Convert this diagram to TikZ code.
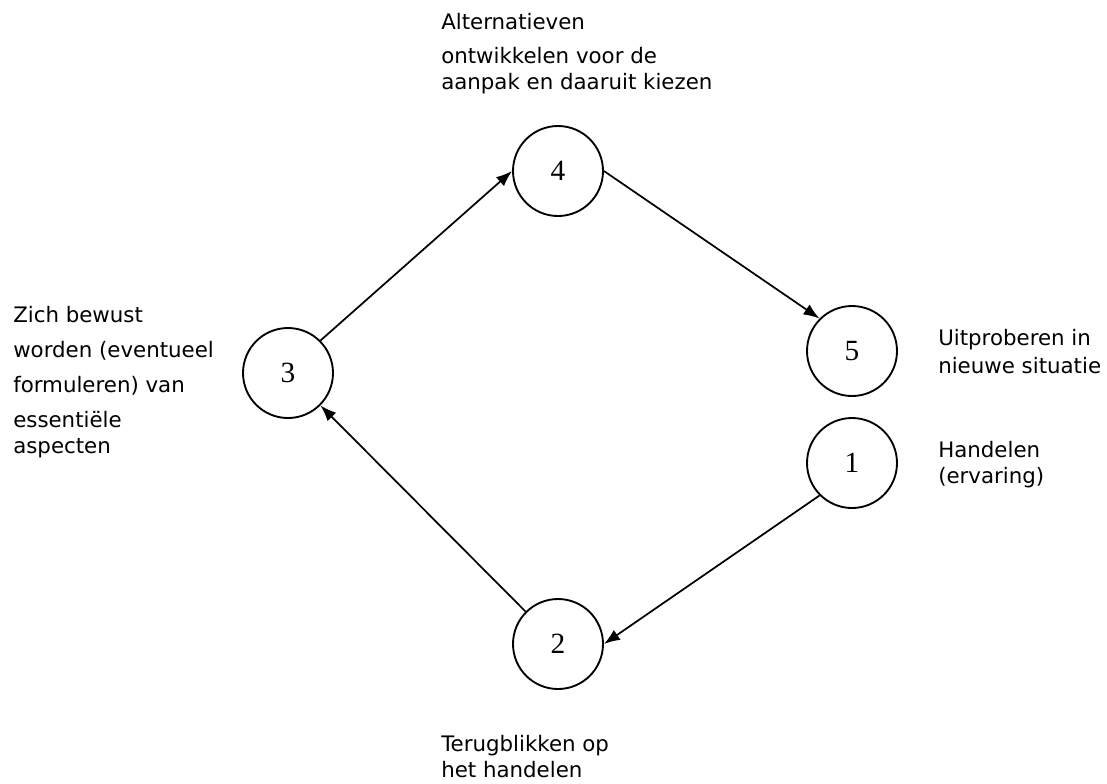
\documentclass[tikz,border=0pt]{standalone}
\usepackage{fontspec}
\setmainfont{DejaVu Sans}
\newfontfamily\numfont{Liberation Serif}
\usetikzlibrary{shapes,positioning,arrows.meta,calc}

\begin{document}
\begin{tikzpicture}[x=0.75pt,y=-0.75pt,>={Latex[length=12pt,width=9pt]}]
      \tikzstyle{obj}=[draw, circle, line width=1.4pt, minimum size=67.5pt, inner sep=0pt, font=\numfont\fontsize{22}{26}\selectfont];
      \tikzstyle{txt}=[anchor=base west, inner sep=0pt, align=left, font=\fontsize{16}{19.5}\selectfont];

      \useasboundingbox (0,0) rectangle (1107,783);

      \node (v4) at (558,171)[obj]{4};
      \node (v3) at (288,373)[obj]{3};
      \node (v5) at (852,351)[obj]{5};
      \node (v1) at (852,463)[obj]{1};
      \node (v2) at (558,644)[obj]{2};

      % base of each text block = baseline of its last line
      \node (t4) at (441,89)[txt]{Alternatieven\\[6pt]ontwikkelen voor de\\aanpak en daaruit kiezen};
      \node (t3) at (13,453)[txt]{Zich bewust\\[6.75pt]worden (eventueel\\[6.75pt]formuleren) van\\[6.75pt]essentiële\\aspecten};
      \node (t5) at (938,373)[txt]{Uitproberen in\\[1.5pt]nieuwe situatie};
      \node (t1) at (938,483)[txt]{Handelen\\(ervaring)};
      \node (t2) at (441,777)[txt]{Terugblikken op\\het handelen};

      \draw [->, line width=1.3pt] (v3.north east) -- (v4.west);
      \draw [->, line width=1.3pt] (v4.east) -- (v5.north west);
      \draw [->, line width=1.3pt] (v1.south west) -- (v2.east);
      \draw [->, line width=1.3pt] (v2.north west) -- (v3.south east);

    \end{tikzpicture}
\end{document}
